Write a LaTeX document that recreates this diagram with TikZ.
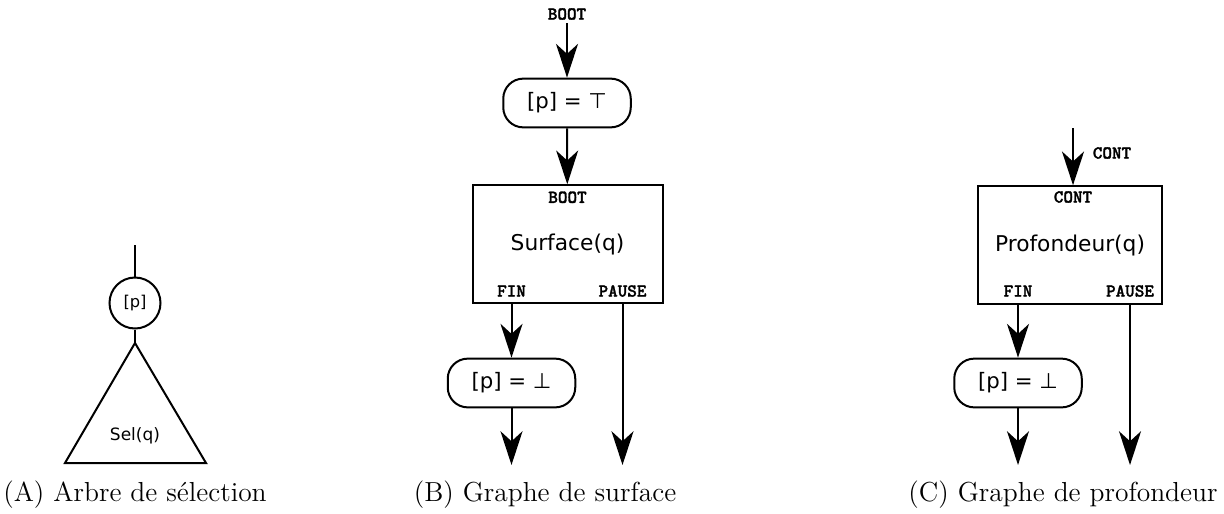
\documentclass[tikz,border=0pt]{standalone}
\usepackage{fontspec}
\newfontfamily\dejavu{DejaVu Sans}
\newfontfamily\portfont{lmmonolt10-bold.otf}[FakeBold=1.6]
\usetikzlibrary{arrows.meta, positioning}

\begin{document}
\begin{tikzpicture}[x=0.4pt, y=-0.4pt, line width=0.8pt,
    flow/.style={-{Stealth[length=13.5pt, width=8.8pt, inset=4pt]}},
    guard/.style={draw, circle, minimum size=20.4pt, inner sep=0pt, font=\dejavu\fontsize{6.5}{8}\selectfont},
    tree/.style={font=\dejavu\fontsize{6.8}{8}\selectfont},
    cond/.style={draw, rounded corners=8pt, minimum width=51pt, minimum height=19.5pt, inner sep=0pt, font=\dejavu\fontsize{8.5}{10}\selectfont},
    graphbox/.style={draw, minimum width=76pt, minimum height=47pt, inner sep=0pt, font=\dejavu\fontsize{8.7}{10}\selectfont},
    port/.style={font=\portfont\fontsize{7.3}{8}\selectfont, inner sep=1pt},
    legend/.style={anchor=base, inner sep=0pt, font=\fontsize{11}{13}\selectfont}]
  \useasboundingbox (0,0) rectangle (1224,513);

  % (A) arbre de selection
  \coordinate (rootA) at (135,245);
  \node[guard] (pA) at (135,303) {[p]};
  \coordinate (apexA) at (135,343);
  \draw (rootA) -- (pA) -- (apexA);
  \draw (apexA) -- (65,463) -- (206,463) -- cycle;
  \node[tree] (selA) at (135,436) {Sel(q)};
  \node[legend] (capA) at (135,501) {(A) Arbre de sélection};

  % (B) graphe de surface
  \node[port] (bootB) at (567,14) {BOOT};
  \node[cond] (topB) at (567,103) {[p] = ⊤};
  \node[graphbox] (surfB) at (567.5,244) {Surface(q)};
  \node[port, below=1.5pt of surfB.north] (inB) {BOOT};
  \node[port] (finB) at (511.5,291) {FIN};
  \node[port] (pauseB) at (622.5,291) {PAUSE};
  \node[cond] (botB) at (511.5,383) {[p] = ⊥};
  \coordinate (outB1) at (511.5,465);
  \coordinate (outB2) at (622.5,465);
  \draw[flow] (bootB) -- (topB);
  \draw[flow] (topB) -- (surfB);
  \draw[flow] (finB |- surfB.south) -- (botB.north);
  \draw[flow] (botB) -- (outB1);
  \draw[flow] (pauseB |- surfB.south) -- (outB2);
  \node[legend] (capB) at (545,501) {(B) Graphe de surface};

  % (C) graphe de profondeur
  \coordinate (contin) at (1073,128);
  \node[port] (contC) at (1112,153) {CONT};
  \node[graphbox, minimum width=73.6pt] (profC) at (1070,245) {Profondeur(q)};
  \node[port] (inC) at (1073,197) {CONT};
  \node[port] (finC) at (1018,291) {FIN};
  \node[port] (pauseC) at (1130,291) {PAUSE};
  \node[cond] (botC) at (1018,383) {[p] = ⊥};
  \coordinate (outC1) at (1018,465);
  \coordinate (outC2) at (1130,465);
  \draw[flow] (contin) -- (contin |- profC.north);
  \draw[flow] (finC |- profC.south) -- (botC.north);
  \draw[flow] (botC) -- (outC1);
  \draw[flow] (pauseC |- profC.south) -- (outC2);
  \node[legend] (capC) at (1063,501) {(C) Graphe de profondeur};
\end{tikzpicture}
\end{document}
